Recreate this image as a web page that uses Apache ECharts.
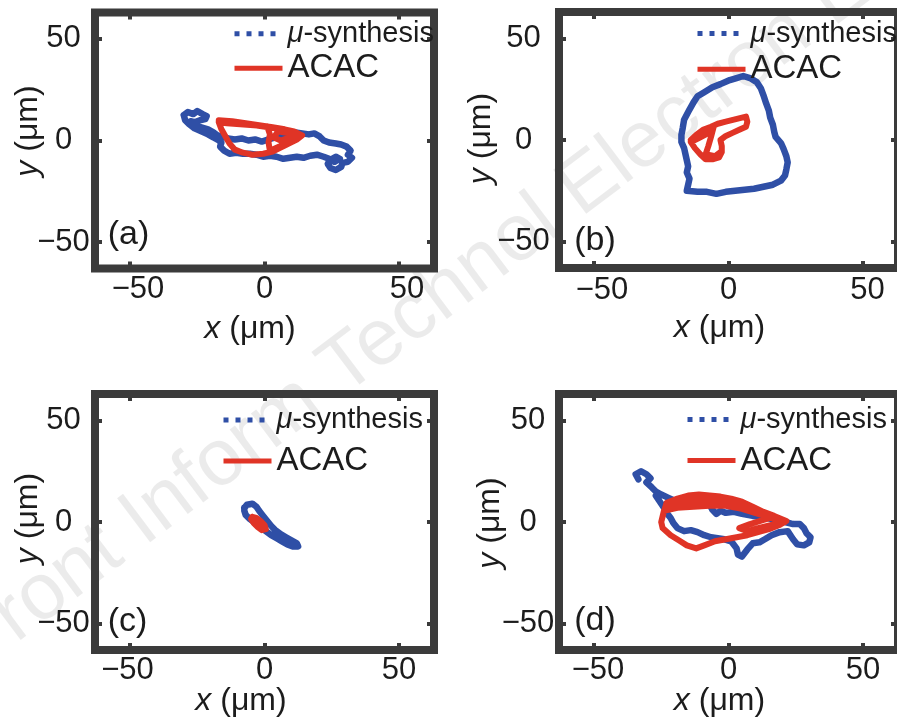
<!DOCTYPE html>
<html>
<head>
<meta charset="utf-8">
<script src="https://cdn.jsdelivr.net/npm/echarts@6/dist/echarts.min.js"></script>
<style>
  html, body { margin: 0; padding: 0; background: #fff; }
  #chart { width: 897px; height: 720px; }
</style>
</head>
<body>
<div id="chart"></div>
<script>
// Axis settings shared by all four panels (µm)
const tickValues = [-50, 0, 50];
const axisLimit = 63;
const seriesNames = ['μ-synthesis', 'ACAC'];
const panelLetters = ['(a)', '(b)', '(c)', '(d)'];

// Panel (a) trajectories [x, y]
const muA = [[-30,12.5],[-28.5,14],[-26.5,13],[-25,14.5],[-23,13],[-21.5,12],[-22,10.5],[-24,10],[-26,9],[-27.5,9.5],[-26,7.5],[-23.5,6.5],[-21,5.5],[-19,4],[-17.5,2.5],[-15.5,2],[-13.5,1],[-11,0.5],[-8.5,1],[-6,0],[-3.5,0.5],[-1,-0.5],[1.5,0.5],[4,1.5],[6.5,3],[9,3.5],[11.5,4],[14,3.5],[16.5,3],[18.5,3.5],[20.5,2],[22,0],[24,-1],[26.5,-1.5],[28.5,-2],[30.5,-3],[32,-5],[31,-7],[32.5,-8.5],[31,-10.5],[29,-11],[28.5,-13],[26.5,-14.5],[24.5,-13.5],[23.5,-11.5],[24.5,-9.5],[26.5,-8],[28,-9],[26,-10.5],[24,-9],[22,-8],[19.5,-7],[17,-7.5],[14.5,-8.5],[12,-8],[9.5,-8.5],[7,-9],[4.5,-8],[2,-7.5],[-0.5,-8],[-3,-7],[-5.5,-6.5],[-8,-6.5],[-10.5,-6],[-13,-6.5],[-15,-5],[-16.5,-3],[-16,-1],[-17.5,0.5],[-19,1.5],[-21,3],[-23.5,4.5],[-26,6],[-28,8],[-29.5,10],[-30,12.5]];
const acacA = [[-17,10],[-12,9.5],[-7,8.5],[-2,7.5],[3,6.5],[7.5,5.5],[11,4.5],[14,2.5],[12,0.5],[9,-1.5],[6,-3.5],[3,-5.5],[-0.5,-6.5],[-4.5,-7],[-8,-6],[-11,-4.5],[-13,-1.5],[-14.5,2],[-16,5.5],[-17,9],[-14,8.5],[-9,8],[-4,7.5],[1,7],[2,3],[1.5,-1],[2,-5],[5.5,-3],[9,-0.5],[12.5,2],[9,3.5],[5,4.5],[3.5,1.5],[6,0],[9.5,1.5],[13,3],[9,5],[4,6],[-1,7],[-6,8],[-11,8.5],[-16,9.5]];

// Panel (b) trajectories
const muB = [[-16.5,10],[-14.5,15],[-13,18.5],[-11.5,21.5],[-9,23.5],[-6,26],[-3,27.5],[0.5,29.5],[3,30.5],[5.5,31.5],[8,30.5],[10.5,28.5],[12,25.5],[13,22],[14,18],[15,14.5],[15.5,11],[16.5,7.5],[17,4],[17.5,1.5],[19.5,-1.5],[20.5,-4.5],[21.5,-8],[22,-11],[21.5,-14.5],[21,-17.5],[19.5,-20],[16.5,-22],[13,-23],[9.5,-24],[6,-24.5],[2.5,-25],[-1,-25.5],[-4.5,-26.5],[-8,-25.5],[-11.5,-25.5],[-15.5,-25],[-15,-22],[-14.5,-19],[-15.5,-16],[-15,-13],[-15.5,-10],[-16,-7],[-16.5,-4],[-17.5,-1],[-17.5,2.5],[-17,6],[-16.5,10]];
const acacB = [[-14,0],[-12,2.5],[-9.5,5],[-6.5,6.5],[-4,8],[-1,9],[2,10],[5,11],[6.5,11.5],[7,9],[6.5,6.5],[4,5],[1.5,3.5],[-1,2],[-3,0],[-2.5,-3],[-2.5,-6],[-3.5,-8.5],[-6,-9.5],[-8.5,-9.5],[-10.5,-7],[-12.5,-4],[-14,-1],[-11,1],[-8,3],[-5.5,6.5],[-6.5,1.5],[-7.5,-3],[-8.5,-7],[-5,-8],[-3,-6]];

// Panel (c) trajectories
const muC = [[-7.5,7],[-6.5,8.5],[-4.5,9],[-3,7.5],[-2,5.5],[-0.5,3],[1,0.5],[2.5,-2],[4,-4],[6,-6],[8,-7.5],[10,-9],[12,-10.5],[12.5,-12],[10.5,-12],[8.5,-11],[6.5,-9.5],[4.5,-8],[2.5,-6.5],[0.5,-4.5],[-1.5,-2.5],[-3.5,-0.5],[-5.5,1.5],[-7,3.5],[-7.5,5.5],[-7.5,7]];
const acacC = [[-4.5,2.5],[-3,2],[-1.5,0.5],[0,-1.5],[0.5,-3.5],[-1,-4],[-2.5,-2.5],[-4,-0.5],[-5,1.5],[-4.5,2.5],[-3,0.5],[-1.5,-1.5]];

// Panel (d) trajectories
const muD = [[-33.5,21],[-34.5,23.5],[-32.5,25],[-30.5,23.5],[-29,21.5],[-30.5,19.5],[-28.5,17],[-27,15],[-25,13.5],[-22.5,12],[-20,10.5],[-17.5,10],[-14.5,9.5],[-12,10],[-9.5,9.5],[-7,8.5],[-6,6],[-4.5,4],[-3,5.5],[-1,4.5],[2,5],[5,4],[9,3],[13,2.5],[17,1],[21,0],[24,-1],[26.5,-1],[28,-3],[29,-5.5],[30.5,-7.5],[30,-10],[28,-11.5],[25.5,-11],[24,-8.5],[22,-4.5],[19,-5],[16,-6.5],[13.5,-8.5],[11.5,-10],[9,-10.5],[7,-13.5],[5,-17],[3.5,-16],[3,-13],[1,-9.5],[-1.5,-8.5],[-4,-8],[-6.5,-7.5],[-9,-6.5],[-11.5,-5],[-14,-4],[-16.5,-4.5],[-19,-3],[-20.5,-0.5],[-21.5,2],[-23,4.5],[-24,7],[-25.5,10],[-27,13]];
const acacD = [[-25,0],[-24,5],[-23,9.5],[-19,11.5],[-15,13],[-11,13.5],[-7,13],[-3,12.5],[1,11.5],[5,10],[9,7.5],[13,5],[17,3],[21.5,0.5],[19,-1.5],[15,-3.5],[11,-5],[7,-6.5],[3,-7.5],[-1,-8.5],[-5,-9.5],[-9,-11.5],[-12,-13],[-15.5,-11.5],[-18.5,-9],[-21.5,-6.5],[-24.5,-3],[-25,0],[-24,5.5],[-19,7],[-13,7.5],[-7,8],[-1,8],[5,6.5],[11,4],[17,1.5],[21,0],[16,-1.5],[11,-3],[7,-4.5],[4,-3],[8,-1],[13,1],[17,2.5],[12,4.5],[6,6.5],[0,9.5],[-6,10.5],[-12,10.5],[-18,10],[-22,8.5]];

const FONT = '"Liberation Sans", Arial, Helvetica, sans-serif';
const TEXT = '#1c1c1c';
const FRAME = '#3b3b3b';
const BLUE = '#2f4fa6';
const RED = '#e03426';

// Placement of each panel on the page
const layout = [
  { grid: [95, 12.5, 339, 256], yMargin: 31.5, xMargin: 20.5, xShift: [8, 8],   legend: [232, 19.3, 3.4], letter: [128.5, 234.5], xTitle: [250, 329],   yTitle: [28, 131] },
  { grid: [559, 12, 339, 256],  yMargin: 35.5, xMargin: 22,   xShift: [8, 4.5], legend: [695, 19, 4.7],   letter: [595, 240.5],   xTitle: [719.5, 328], yTitle: [481, 138.5] },
  { grid: [95, 394, 339, 256],  yMargin: 31.5, xMargin: 20,   xShift: [-2.5, 0], legend: [221, 405.5, 10], letter: [127.5, 621.5], xTitle: [241, 701.5], yTitle: [28, 518.5] },
  { grid: [559, 394, 339, 256], yMargin: 31,   xMargin: 20,   xShift: [4, 0],   legend: [685, 405, 10],   letter: [595, 620.5],   xTitle: [719.5, 701.5], yTitle: [490, 523] }
];
const trajectories = [[muA, acacA], [muB, acacB], [muC, acacC], [muD, acacD]];

function pad(s) { return s >= 0 ? [0, 0, 0, 2 * s] : [0, -2 * s, 0, 0]; }
function minusSign(v) { return v < 0 ? '−' + (-v) : String(v); }

const tickStyle = { show: true, inside: true, length: 7, customValues: tickValues, lineStyle: { color: FRAME, width: 4 } };
const hiddenLine = { show: false, onZero: false };

const grids = [], xAxes = [], yAxes = [], series = [], legends = [], graphics = [];

// Light diagonal watermark behind the panels
graphics.push({
  type: 'text', x: -36, y: 655, rotation: 37 * Math.PI / 180, z: -10, silent: true,
  style: { text: 'Front Inform Technol Electron Eng', fontSize: 80, fontFamily: FONT, fill: 'rgba(0,0,0,0.08)', align: 'left', verticalAlign: 'middle' }
});

layout.forEach((p, i) => {
  const [left, top, width, height] = p.grid;
  grids.push({ left, top, width, height, show: true, backgroundColor: 'transparent', borderColor: FRAME, borderWidth: 8, outerBoundsMode: 'none', containLabel: false });

  const base = { fontSize: 31, fontFamily: FONT, color: TEXT };
  xAxes.push({
    gridIndex: i, type: 'value', min: -axisLimit, max: axisLimit, position: 'bottom',
    axisLine: hiddenLine, splitLine: { show: false }, axisTick: tickStyle,
    axisLabel: {
      customValues: tickValues, margin: p.xMargin, verticalAlign: 'middle', ...base,
      formatter: v => v < 0 ? '{neg|' + minusSign(v) + '}' : (v === 0 ? '{zero|0}' : '{pos|' + v + '}'),
      rich: {
        neg: Object.assign({}, base, { padding: pad(p.xShift[0]) }),
        zero: Object.assign({}, base),
        pos: Object.assign({}, base, { padding: pad(p.xShift[1]) })
      }
    }
  });
  xAxes.push({
    gridIndex: i, type: 'value', min: -axisLimit, max: axisLimit, position: 'top',
    axisLine: hiddenLine, splitLine: { show: false }, axisTick: tickStyle, axisLabel: { show: false }
  });
  yAxes.push({
    gridIndex: i, type: 'value', min: -axisLimit, max: axisLimit, position: 'left',
    axisLine: hiddenLine, splitLine: { show: false }, axisTick: tickStyle,
    axisLabel: { customValues: tickValues, margin: p.yMargin, align: 'center', verticalAlign: 'middle', ...base, formatter: minusSign }
  });
  yAxes.push({
    gridIndex: i, type: 'value', min: -axisLimit, max: axisLimit, position: 'right',
    axisLine: hiddenLine, splitLine: { show: false }, axisTick: tickStyle, axisLabel: { show: false }
  });

  const [mu, acac] = trajectories[i];
  series.push({
    type: 'line', name: seriesNames[0], xAxisIndex: 2 * i, yAxisIndex: 2 * i, data: mu,
    symbol: 'none', z: 2, lineStyle: { color: BLUE, width: 6.5, cap: 'round', join: 'round' }, itemStyle: { color: BLUE }
  });
  series.push({
    type: 'line', name: seriesNames[1], xAxisIndex: 2 * i, yAxisIndex: 2 * i, data: acac,
    symbol: 'none', z: 3, lineStyle: { color: RED, width: 6, cap: 'round', join: 'round' }, itemStyle: { color: RED }
  });

  legends.push({
    left: p.legend[0], top: p.legend[1], itemGap: p.legend[2], orient: 'vertical',
    itemWidth: 48, itemHeight: 14, padding: 0, selectedMode: false, z: 5,
    data: [
      { name: seriesNames[0], itemStyle: { opacity: 0 }, lineStyle: { color: BLUE, width: 5, type: [5, 7], cap: 'butt' } },
      { name: seriesNames[1], itemStyle: { opacity: 0 }, lineStyle: { color: RED, width: 5, type: 'solid', cap: 'butt' } }
    ],
    formatter: name => name === seriesNames[0] ? '{i|μ}{s|-synthesis}' : '{a|' + name + '}',
    textStyle: {
      color: TEXT, fontFamily: FONT, fontSize: 29, lineHeight: 26,
      rich: {
        i: { fontStyle: 'italic', fontSize: 29, lineHeight: 26, fontFamily: FONT, color: TEXT },
        s: { fontSize: 29, lineHeight: 26, fontFamily: FONT, color: TEXT },
        a: { fontSize: 33, lineHeight: 26, fontFamily: FONT, color: TEXT }
      }
    }
  });

  const titleRich = { i: { fontStyle: 'italic', fontSize: 32, fontFamily: FONT, fill: TEXT } };
  graphics.push({
    type: 'text', x: p.xTitle[0], y: p.xTitle[1], z: 10,
    style: { text: '{i|x} (μm)', rich: titleRich, fontSize: 32, fontFamily: FONT, fill: TEXT, align: 'center', verticalAlign: 'middle' }
  });
  graphics.push({
    type: 'text', x: p.yTitle[0], y: p.yTitle[1], rotation: Math.PI / 2, z: 10,
    style: { text: '{i|y} (μm)', rich: titleRich, fontSize: 32, fontFamily: FONT, fill: TEXT, align: 'center', verticalAlign: 'middle' }
  });
  graphics.push({
    type: 'text', x: p.letter[0], y: p.letter[1], z: 10,
    style: { text: panelLetters[i], fontSize: 34, fontFamily: FONT, fill: TEXT, align: 'center', verticalAlign: 'middle' }
  });
});

const chart = echarts.init(document.getElementById('chart'), null, { renderer: 'canvas' });
chart.setOption({
  animation: false,
  backgroundColor: '#ffffff',
  grid: grids,
  xAxis: xAxes,
  yAxis: yAxes,
  legend: legends,
  series: series,
  graphic: graphics
});
</script>
</body>
</html>
